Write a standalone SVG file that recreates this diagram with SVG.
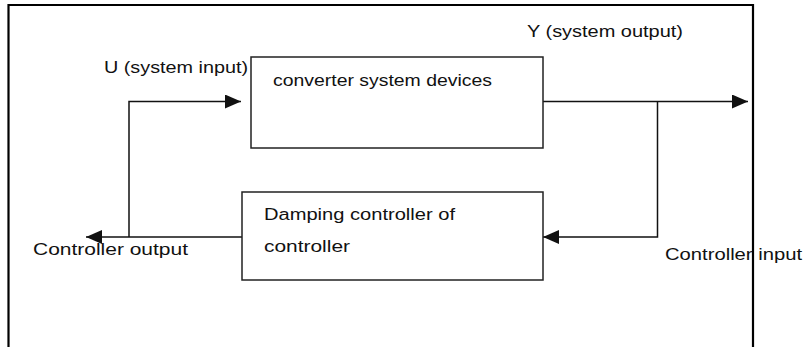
<svg xmlns="http://www.w3.org/2000/svg" width="804" height="347" viewBox="0 0 804 347">
<style>
.box{fill:#fff;stroke:#222;stroke-width:1.5}
.ln{fill:none;stroke:#111;stroke-width:1.5}
.t{font-family:"Liberation Sans Narrow","Liberation Sans",Arial,sans-serif;font-size:16px;fill:#111}
</style>
<defs>
<marker id="ah" viewBox="0 0 16 14" refX="16" refY="7" markerWidth="16" markerHeight="14" markerUnits="userSpaceOnUse" orient="auto">
<path d="M0,0 L16,7 L0,14 Z" fill="#111"/>
</marker>
</defs>
<rect width="804" height="347" fill="#fff"/>
<path d="M8.5,347 V5 H753 V347" fill="none" stroke="#000" stroke-width="2.2"/>
<g id="connectors">
<path class="ln" d="M129,237 V101.5 H241" marker-end="url(#ah)"/>
<path class="ln" d="M543,101.5 H748" marker-end="url(#ah)"/>
<path class="ln" d="M657.5,101.5 V237 H543" marker-end="url(#ah)"/>
<path class="ln" d="M242,237 H86" marker-end="url(#ah)"/>
</g>
<g id="plant">
<rect class="box" x="251" y="57" width="292" height="91"/>
<text class="t" x="273" y="86" textLength="219" lengthAdjust="spacingAndGlyphs">converter system devices</text>
</g>
<g id="controller">
<rect class="box" x="242" y="192" width="301" height="88"/>
<text class="t" x="264" y="220" textLength="191" lengthAdjust="spacingAndGlyphs">Damping controller of</text>
<text class="t" x="264" y="252" textLength="86" lengthAdjust="spacingAndGlyphs">controller</text>
</g>
<g id="labels">
<text class="t" x="104" y="73" textLength="144" lengthAdjust="spacingAndGlyphs">U (system input)</text>
<text class="t" x="527" y="37" textLength="156" lengthAdjust="spacingAndGlyphs">Y (system output)</text>
<text class="t" x="33" y="255" textLength="155" lengthAdjust="spacingAndGlyphs">Controller output</text>
<text class="t" x="665" y="260" textLength="137" lengthAdjust="spacingAndGlyphs">Controller input</text>
</g>
</svg>
